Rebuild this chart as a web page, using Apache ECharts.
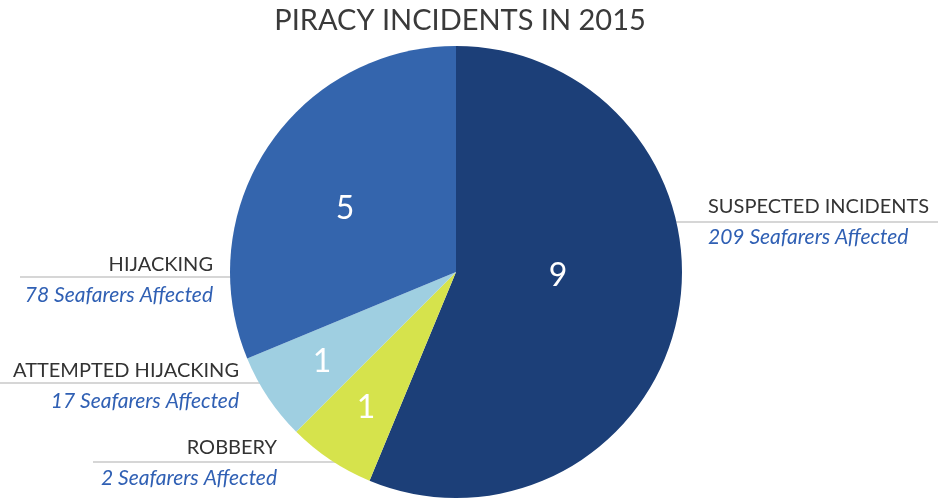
<!DOCTYPE html>
<html>
<head>
<meta charset="utf-8">
<script src="https://cdn.jsdelivr.net/npm/echarts@6/dist/echarts.min.js"></script>
<style>
html,body{margin:0;padding:0;background:#fff;}
#chart{width:945px;height:502px;}
</style>
</head>
<body>
<div id="chart"></div>
<script>
// ---- data ----
const categories = ['SUSPECTED INCIDENTS', 'ROBBERY', 'ATTEMPTED HIJACKING', 'HIJACKING'];
const incidents = [9, 1, 1, 5];
const seafarersAffected = [209, 2, 17, 78];
const sliceColors = ['#1c3f78', '#d6e34c', '#9fcfe1', '#3465ad'];
const titleText = 'PIRACY INCIDENTS IN 2015';

// ---- label layout (positions only) ----
const labelPos = [
  { x: 708, y: 222, align: 'left',  line: [[657, 222], [938, 222]] },
  { x: 277, y: 463, align: 'right', line: [[345, 462], [93, 462]] },
  { x: 239, y: 386, align: 'right', line: [[270, 383], [0, 383]] },
  { x: 213, y: 280, align: 'right', line: [[248, 277], [20, 277]] }
];
const valueLabelPos = [
  { x: 558, y: 276 },
  { x: 366, y: 408 },
  { x: 322, y: 362 },
  { x: 345, y: 209 }
];

const data = categories.map((c, i) => ({
  name: c,
  value: incidents[i],
  affected: seafarersAffected[i],
  itemStyle: { color: sliceColors[i] }
}));

const chart = echarts.init(document.getElementById('chart'));
chart.setOption({
  animation: false,
  title: {
    text: titleText,
    left: 455,
    textAlign: 'center',
    top: 1,
    textStyle: { fontFamily: 'Lato', fontWeight: 'normal', fontSize: 29, color: '#3a3a3a' }
  },
  series: [
    {
      type: 'pie',
      center: [456, 272],
      radius: [0, 226],
      startAngle: 90,
      clockwise: true,
      silent: true,
      data: data,
      label: {
        show: true,
        position: 'inside',
        formatter: '{c}',
        fontFamily: 'Lato',
        fontSize: 32,
        color: '#ffffff'
      },
      labelLine: { show: false },
      labelLayout: function (params) {
        const p = valueLabelPos[params.dataIndex];
        return { x: p.x, y: p.y, align: 'center', verticalAlign: 'middle' };
      }
    },
    {
      type: 'pie',
      center: [456, 272],
      radius: [0, 226],
      startAngle: 90,
      clockwise: true,
      silent: true,
      data: data.map(d => ({ name: d.name, value: d.value, affected: d.affected, itemStyle: { color: 'rgba(0,0,0,0)' } })),
      label: {
        show: true,
        position: 'outside',
        overflow: 'none',
        edgeDistance: 0,
        bleedMargin: 0,
        formatter: p => '{n|' + p.name + '}\n{s|' + p.data.affected + ' Seafarers Affected}',
        rich: {
          n: { fontFamily: 'Lato', fontSize: 20, color: '#333', lineHeight: 31 },
          s: { fontFamily: 'Lato', fontStyle: 'italic', fontSize: 21, color: '#3060b4', lineHeight: 31 }
        }
      },
      labelLine: { show: true, lineStyle: { color: '#c8c8c8', width: 1.5 } },
      labelLayout: function (params) {
        const p = labelPos[params.dataIndex];
        return {
          x: p.x,
          y: p.y,
          align: p.align,
          verticalAlign: 'middle',
          labelLinePoints: p.line
        };
      }
    }
  ]
});
</script>
</body>
</html>
